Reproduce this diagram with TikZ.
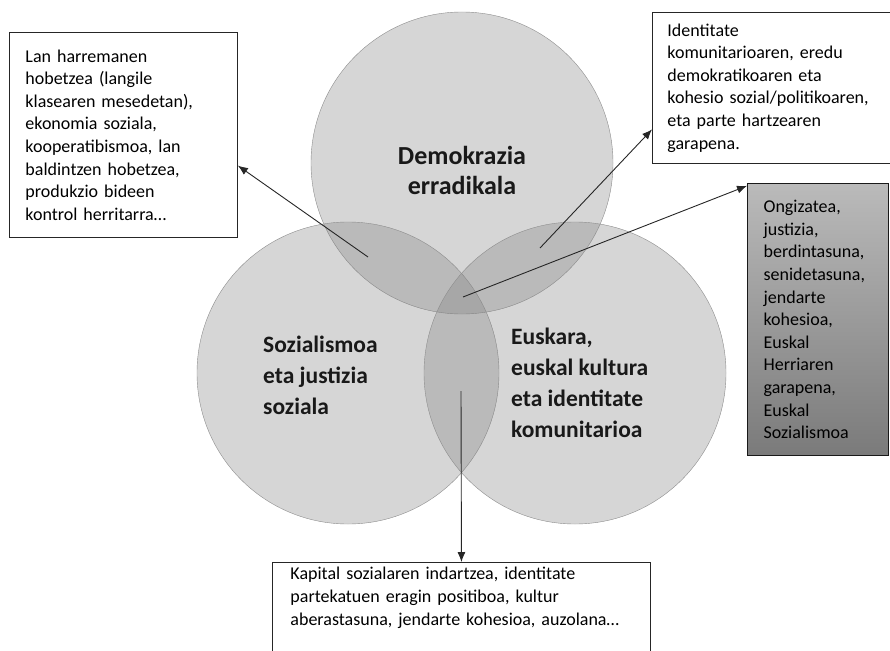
\documentclass[tikz,border=0pt]{standalone}
\usepackage{fontspec}
\setmainfont{Carlito}
\usetikzlibrary{arrows.meta}
\tikzstyle{zirk}=[circle, draw = black!45, fill = black!50, fill opacity = .32, text opacity = 1, minimum size = 302pt, inner sep = 0pt]
\tikzstyle{kutxa}=[draw = black!85, fill = white, line width = .9pt, align = left, inner xsep = 16pt, inner ysep = 5pt, anchor = north west, font = \fontsize{18}{22.6}\selectfont]
\tikzstyle{izen}=[inner sep = 0pt, text = black!90, font = \fontsize{23.5}{31}\selectfont\bfseries]
\tikzstyle{gezi}=[-{Latex[length = 10pt, width = 8pt]}, line width = .9pt, draw = black!85]
\begin{document}
\begin{tikzpicture}[x = 1pt, y = -1pt]
  \clip (0,0) rectangle (890,650);
  \node[zirk] (demo) at (462,163) {};
  \node[zirk] (sozial) at (348,373) {};
  \node[zirk] (euskara) at (575,373) {};
  \node[izen, align = center, font = \fontsize{26}{30}\selectfont\bfseries] (demotxt) at (462,170) {Demokrazia\\erradikala};
  \node[izen, align = left, anchor = west] (sozialtxt) at (263,375) {Sozialismoa\\eta justizia\\soziala};
  \node[izen, align = left, anchor = west] (euskaratxt) at (511,383) {Euskara,\\euskal kultura\\eta identitate\\komunitarioa};
  \coordinate (p1) at (368,257);
  \coordinate (p2) at (540,248);
  \coordinate (p3) at (463,297);
  \coordinate (p4) at (461,391);
  \node[kutxa, text width = 196pt, minimum height = 205pt] (lan) at (9,32) {Lan harremanen\\hobetzea (langile\\klasearen mesedetan),\\ekonomia soziala,\\kooperatibismoa, lan\\baldintzen hobetzea,\\produkzio bideen\\kontrol herritarra\dots};
  \node[kutxa, text width = 210pt, inner xsep = 15pt, minimum height = 151pt] (ident) at (652,12) {Identitate\\komunitarioaren, eredu\\demokratikoaren eta\\kohesio sozial/politikoaren,\\eta parte hartzearen\\garapena.};
  \node[kutxa, text width = 109pt, minimum height = 272pt, top color = black!27, bottom color = black!52, draw = black!90, line width = 1.2pt] (ongi) at (747,183) {Ongizatea,\\justizia,\\berdintasuna,\\senidetasuna,\\jendarte\\kohesioa,\\Euskal\\Herriaren\\garapena,\\Euskal\\Sozialismoa};
  \node[kutxa, text width = 342pt, inner xsep = 18pt] (kapital) at (272,562) {Kapital sozialaren indartzea, identitate\\partekatuen eragin positiboa, kultur\\aberastasuna, jendarte kohesioa, auzolana\dots\vspace*{40pt}};
  \draw[gezi] (p1) -- (lan.-15);
  \draw[gezi] (p2) -- (ident.199);
  \draw[gezi] (p3) -- (ongi.118);
  \draw[gezi] (p4) -- (kapital.north);
\end{tikzpicture}
\end{document}
